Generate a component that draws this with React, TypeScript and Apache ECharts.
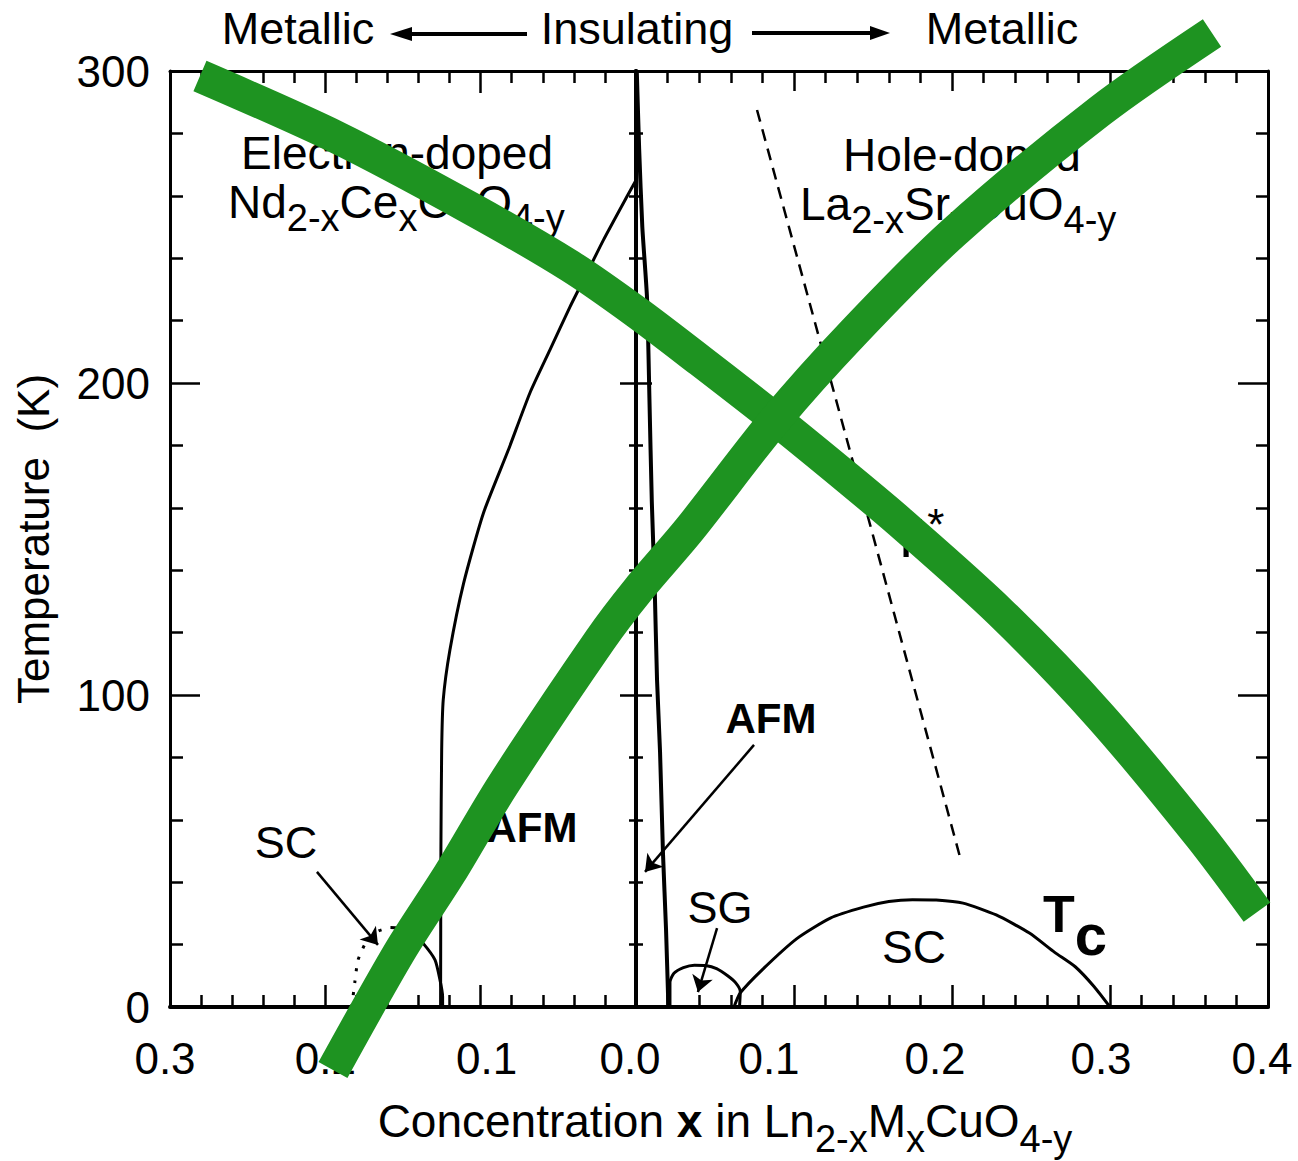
import React, { useEffect, useRef } from 'react';
import * as echarts from 'echarts';

const FONT = "'Liberation Sans', Arial, Helvetica, sans-serif";
const BLACK = '#000';
const GREEN = '#1e9321';

// ---------- tick labels ----------
const tempTickLabels = ['0', '100', '200', '300'];
const electronTickLabels = ['0.0', '0.1', '0.2', '0.3'];
const holeTickLabels = ['', '0.1', '0.2', '0.3', '0.4'];

// ---------- electron-doped side: Nd2-xCexCuO4-y  [x, T(K)] ----------
const electronAFM: number[][] = [
  [0.0, 265], [0.006, 259.6], [0.021, 245.8], [0.0315, 235.3], [0.0425, 224.4],
  [0.0554, 210.6], [0.0683, 196.8], [0.0822, 178.5], [0.0983, 158.2], [0.111, 135.8],
  [0.1198, 114.4], [0.1241, 98.4], [0.1251, 82.4], [0.1256, 50], [0.1258, 0],
];
const electronSCDotted: number[][] = [
  [0.183, 0], [0.181, 8], [0.179, 15], [0.174, 20.5], [0.166, 24.3], [0.158, 25.5],
];
const electronSCSolid: number[][] = [
  [0.158, 25.5], [0.15, 25.2], [0.143, 23.2], [0.137, 20.4], [0.1294, 15.1],
  [0.1262, 8.7], [0.1245, 3.3], [0.1245, 0],
];

// ---------- hole-doped side: La2-xSrxCuO4-y  [x, T(K)] ----------
const holeAFM: number[][] = [
  [0.0005, 300], [0.002, 275], [0.004, 250], [0.007, 227], [0.0085, 195], [0.01, 162],
  [0.0118, 135], [0.0133, 105], [0.0152, 82], [0.0171, 49], [0.019, 25], [0.0205, 0],
];
const holeSG: number[][] = [
  [0.0215, 0], [0.0215, 8], [0.024, 10.8], [0.03, 12.6], [0.037, 13.4], [0.044, 13.3],
  [0.051, 12.3], [0.058, 10], [0.063, 7.8], [0.066, 5], [0.0655, 0],
];
const holeSC: number[][] = [
  [0.062, 0], [0.066, 4.5], [0.08, 12], [0.102, 22], [0.123, 28.5], [0.144, 32],
  [0.16, 33.8], [0.175, 34.4], [0.19, 34.3], [0.207, 33.3], [0.228, 29.5], [0.249, 23.7],
  [0.265, 17.5], [0.278, 12.9], [0.29, 6.5], [0.3, 0],
];
const holePseudogap: number[][] = [[0.0766, 287.5], [0.149, 153], [0.2051, 48]];

// ---------- annotation arrows [from, to] ----------
const scArrowElectron: number[][] = [[0.2054, 43.3], [0.1661, 19.9]];
const afmArrowHole: number[][] = [[0.0747, 84], [0.0057, 43.3]];
const sgArrowHole: number[][] = [[0.0513, 25.3], [0.0392, 4.8]];

// ---------- green cross overlay (frame coordinates: -0.3 .. 0.4, 0 .. 300) ----------
const crossDown: number[][] = [
  [-0.2809, 298.4], [-0.1935, 278.7], [-0.1087, 256.1], [-0.045, 237.5], [-0.0029, 222.8],
  [0.0379, 207.2], [0.0857, 188.5], [0.1335, 168.9], [0.1654, 155.4], [0.2291, 126.6],
  [0.2929, 93.3], [0.3566, 54.8], [0.393, 30.4],
];
const crossUp: number[][] = [
  [-0.1961, -20.2], [-0.1534, 17.9], [-0.1215, 42.9], [-0.0877, 71.2], [-0.0259, 117.6],
  [-0.0016, 133.7], [0.0309, 152.9], [0.0857, 188.1], [0.1354, 216.0], [0.1992, 248.1],
  [0.2929, 287.2], [0.3643, 312.2],
];

const labelBase = { fontSize: 44, fontFamily: FONT, color: BLACK };

const axisLineStyle = (w: number) => ({ show: true, onZero: false, lineStyle: { color: BLACK, width: w } });
const tick = (len: number) => ({ show: true, inside: true, length: len, lineStyle: { color: BLACK, width: 2.5 } });
const minor = (len: number) => ({ show: true, splitNumber: 5, length: len, lineStyle: { color: BLACK, width: 2.5 } });

const txtRich = (main: number, sub: number, drop: number) => ({
  m: { fontSize: main, fontFamily: FONT, fill: BLACK, color: BLACK },
  b: { fontSize: main, fontFamily: FONT, fontWeight: 'bold', fill: BLACK, color: BLACK },
  s: { fontSize: sub, fontFamily: FONT, fill: BLACK, color: BLACK, padding: [drop * 2, 0, 0, 0] },
});

function text(x: number, y: number, content: string, opts: any = {}) {
  const align = opts.align || 'center';
  return {
    type: 'text',
    x,
    y,
    z: 5,
    style: {
      text: content,
      fontSize: opts.fontSize || 45,
      fontFamily: FONT,
      fontWeight: opts.fontWeight || 'normal',
      fill: BLACK,
      align,
      textAlign: align,
      verticalAlign: 'middle',
      textVerticalAlign: 'middle',
      rich: opts.rich,
    },
  };
}

function lineSeries(data: number[][], xi: number, yi: number, width: number, extra: any = {}) {
  return {
    type: 'line',
    xAxisIndex: xi,
    yAxisIndex: yi,
    data,
    symbol: 'none',
    showSymbol: false,
    smooth: extra.smooth ?? 0.2,
    clip: extra.clip ?? true,
    z: extra.z ?? 3,
    silent: true,
    lineStyle: { color: extra.color || BLACK, width, type: extra.type || 'solid', cap: 'butt', join: 'round' },
    markLine: extra.markLine,
  };
}

function arrows(list: number[][][]) {
  return {
    silent: true,
    symbol: ['none', 'arrow'],
    symbolSize: 16,
    label: { show: false },
    emphasis: { disabled: true },
    itemStyle: { color: BLACK },
    lineStyle: { color: BLACK, width: 2.5, type: 'solid' },
    animation: false,
    data: list.map((a) => [{ coord: a[0] }, { coord: a[1] }]),
  };
}

export default function App() {
  const ref = useRef<HTMLDivElement>(null);

  useEffect(() => {
    if (!ref.current) return;
    const chart = echarts.init(ref.current, undefined, { renderer: 'svg' });

    const richE: any = {
      e0: { ...labelBase, padding: [0, 12, 0, 0] },
      e1: { ...labelBase, padding: [0, 0, 0, 12] },
      e2: { ...labelBase },
      e3: { ...labelBase, padding: [0, 10, 0, 0] },
    };
    const richH: any = {
      h1: { ...labelBase, padding: [0, 50, 0, 0] },
      h2: { ...labelBase, padding: [0, 34, 0, 0] },
      h3: { ...labelBase, padding: [0, 18, 0, 0] },
      h4: { ...labelBase, padding: [0, 12, 0, 0] },
    };

    const option: any = {
      animation: false,
      backgroundColor: '#fff',
      textStyle: { fontFamily: FONT },
      grid: [
        { left: 170, top: 71, width: 466, height: 936 },
        { left: 636, top: 71, width: 632, height: 936 },
        { left: 170, top: 71, width: 1098, height: 936 },
      ],
      xAxis: [
        {
          type: 'value', gridIndex: 0, position: 'bottom', min: 0, max: 0.3, interval: 0.1, inverse: true,
          axisLine: axisLineStyle(4), axisTick: tick(22), minorTick: minor(12),
          splitLine: { show: false }, minorSplitLine: { show: false },
          axisLabel: {
            margin: 29, ...labelBase, rich: richE,
            formatter: (v: number) => {
              const i = Math.round(v * 10);
              return `{e${i}|${electronTickLabels[i]}}`;
            },
          },
        },
        {
          type: 'value', gridIndex: 0, position: 'top', min: 0, max: 0.3, interval: 0.1, inverse: true,
          axisLine: axisLineStyle(3), axisTick: tick(22), minorTick: minor(12),
          splitLine: { show: false }, axisLabel: { show: false },
        },
        {
          type: 'value', gridIndex: 1, position: 'bottom', min: 0, max: 0.4, interval: 0.1,
          axisLine: axisLineStyle(4), axisTick: tick(22), minorTick: minor(12),
          splitLine: { show: false }, minorSplitLine: { show: false },
          axisLabel: {
            margin: 29, ...labelBase, rich: richH,
            formatter: (v: number) => {
              const i = Math.round(v * 10);
              if (i === 0) return '';
              return `{h${i}|${holeTickLabels[i]}}`;
            },
          },
        },
        {
          type: 'value', gridIndex: 1, position: 'top', min: 0, max: 0.4, interval: 0.1,
          axisLine: axisLineStyle(3), axisTick: tick(20), minorTick: minor(12),
          splitLine: { show: false }, axisLabel: { show: false },
        },
        { type: 'value', gridIndex: 2, min: -0.3, max: 0.4, show: false },
      ],
      yAxis: [
        {
          type: 'value', gridIndex: 0, position: 'left', min: 0, max: 300, interval: 100,
          axisLine: axisLineStyle(3), axisTick: tick(30), minorTick: minor(13),
          splitLine: { show: false }, minorSplitLine: { show: false },
          axisLabel: { margin: 20, ...labelBase, formatter: (v: number) => tempTickLabels[Math.round(v / 100)] },
          name: 'Temperature  (K)', nameLocation: 'middle', nameRotate: 90, nameGap: 115,
          nameTextStyle: { fontSize: 44, fontFamily: FONT, color: BLACK },
        },
        {
          type: 'value', gridIndex: 0, position: 'right', min: 0, max: 300, interval: 100,
          axisLine: axisLineStyle(4), axisTick: tick(16), minorTick: minor(7),
          splitLine: { show: false }, axisLabel: { show: false },
        },
        {
          type: 'value', gridIndex: 1, position: 'left', min: 0, max: 300, interval: 100,
          axisLine: axisLineStyle(4), axisTick: tick(16), minorTick: minor(7),
          splitLine: { show: false }, axisLabel: { show: false },
        },
        {
          type: 'value', gridIndex: 1, position: 'right', min: 0, max: 300, interval: 100,
          axisLine: axisLineStyle(3), axisTick: tick(30), minorTick: minor(12),
          splitLine: { show: false }, axisLabel: { show: false },
        },
        { type: 'value', gridIndex: 2, min: 0, max: 300, show: false },
      ],
      series: [
        lineSeries(electronAFM, 0, 0, 3, { markLine: arrows([scArrowElectron]) }),
        lineSeries(electronSCSolid, 0, 0, 3),
        lineSeries(electronSCDotted, 0, 0, 3, { type: [3, 9] }),
        lineSeries(holeAFM, 2, 2, 4, { markLine: arrows([afmArrowHole, sgArrowHole]) }),
        lineSeries(holeSG, 2, 2, 3),
        lineSeries(holeSC, 2, 2, 3),
        lineSeries(holePseudogap, 2, 2, 2.5, { type: [12, 8], smooth: 0 }),
        lineSeries(crossDown, 4, 4, 33, { color: GREEN, clip: false, z: 10, smooth: 0.3 }),
        lineSeries(crossUp, 4, 4, 33, { color: GREEN, clip: false, z: 10, smooth: 0.3 }),
      ],
      graphic: [
        text(298, 28, 'Metallic'),
        { type: 'line', z: 5, shape: { x1: 408, y1: 34, x2: 527, y2: 34 }, style: { stroke: BLACK, lineWidth: 4 } },
        { type: 'polygon', z: 5, shape: { points: [[390, 34], [412, 27], [412, 41]] }, style: { fill: BLACK } },
        text(637, 28, 'Insulating'),
        { type: 'line', z: 5, shape: { x1: 752, y1: 33, x2: 872, y2: 33 }, style: { stroke: BLACK, lineWidth: 4 } },
        { type: 'polygon', z: 5, shape: { points: [[890, 33], [870, 26], [870, 40]] }, style: { fill: BLACK } },
        text(1002, 28, 'Metallic'),

        text(397, 153, 'Electron-doped', { fontSize: 46 }),
        text(228, 202, '{m|Nd}{s|2-x}{m|Ce}{s|x}{m|CuO}{s|4-y}', { align: 'left', rich: txtRich(46, 38, 16) }),
        text(962, 155, 'Hole-doped', { fontSize: 46 }),
        text(800, 204, '{m|La}{s|2-x}{m|Sr}{s|x}{m|CuO}{s|4-y}', { align: 'left', rich: txtRich(46, 38, 16) }),

        text(532, 827, 'AFM', { fontSize: 42, fontWeight: 'bold' }),
        text(771, 718, 'AFM', { fontSize: 42, fontWeight: 'bold' }),
        text(286, 842, 'SC', { fontSize: 45 }),
        text(720, 907, 'SG', { fontSize: 45 }),
        text(914, 947, 'SC', { fontSize: 46 }),
        text(1043, 914, '{t|T}{c|c}', {
          align: 'left',
          rich: {
            t: { fontSize: 52, fontFamily: FONT, fontWeight: 'bold', fill: BLACK, color: BLACK },
            c: { fontSize: 58, fontFamily: FONT, fontWeight: 'bold', fill: BLACK, color: BLACK, padding: [40, 0, 0, 0] },
          },
        }),
        text(889, 537, '{t|T}{s|*}', {
          align: 'left',
          rich: {
            t: { fontSize: 56, fontFamily: FONT, fill: BLACK, color: BLACK },
            s: { fontSize: 44, fontFamily: FONT, fill: BLACK, color: BLACK, padding: [0, 0, 26, 4] },
          },
        }),

        text(725, 1121, '{m|Concentration }{b|x}{m| in Ln}{s|2-x}{m|M}{s|x}{m|CuO}{s|4-y}', {
          rich: txtRich(46, 38, 18),
        }),
      ],
    };

    chart.setOption(option);
    return () => chart.dispose();
  }, []);

  return (
    <div
      ref={ref}
      style={{ position: 'fixed', left: 0, top: 0, width: 1298, height: 1161, background: '#fff' }}
    />
  );
}
